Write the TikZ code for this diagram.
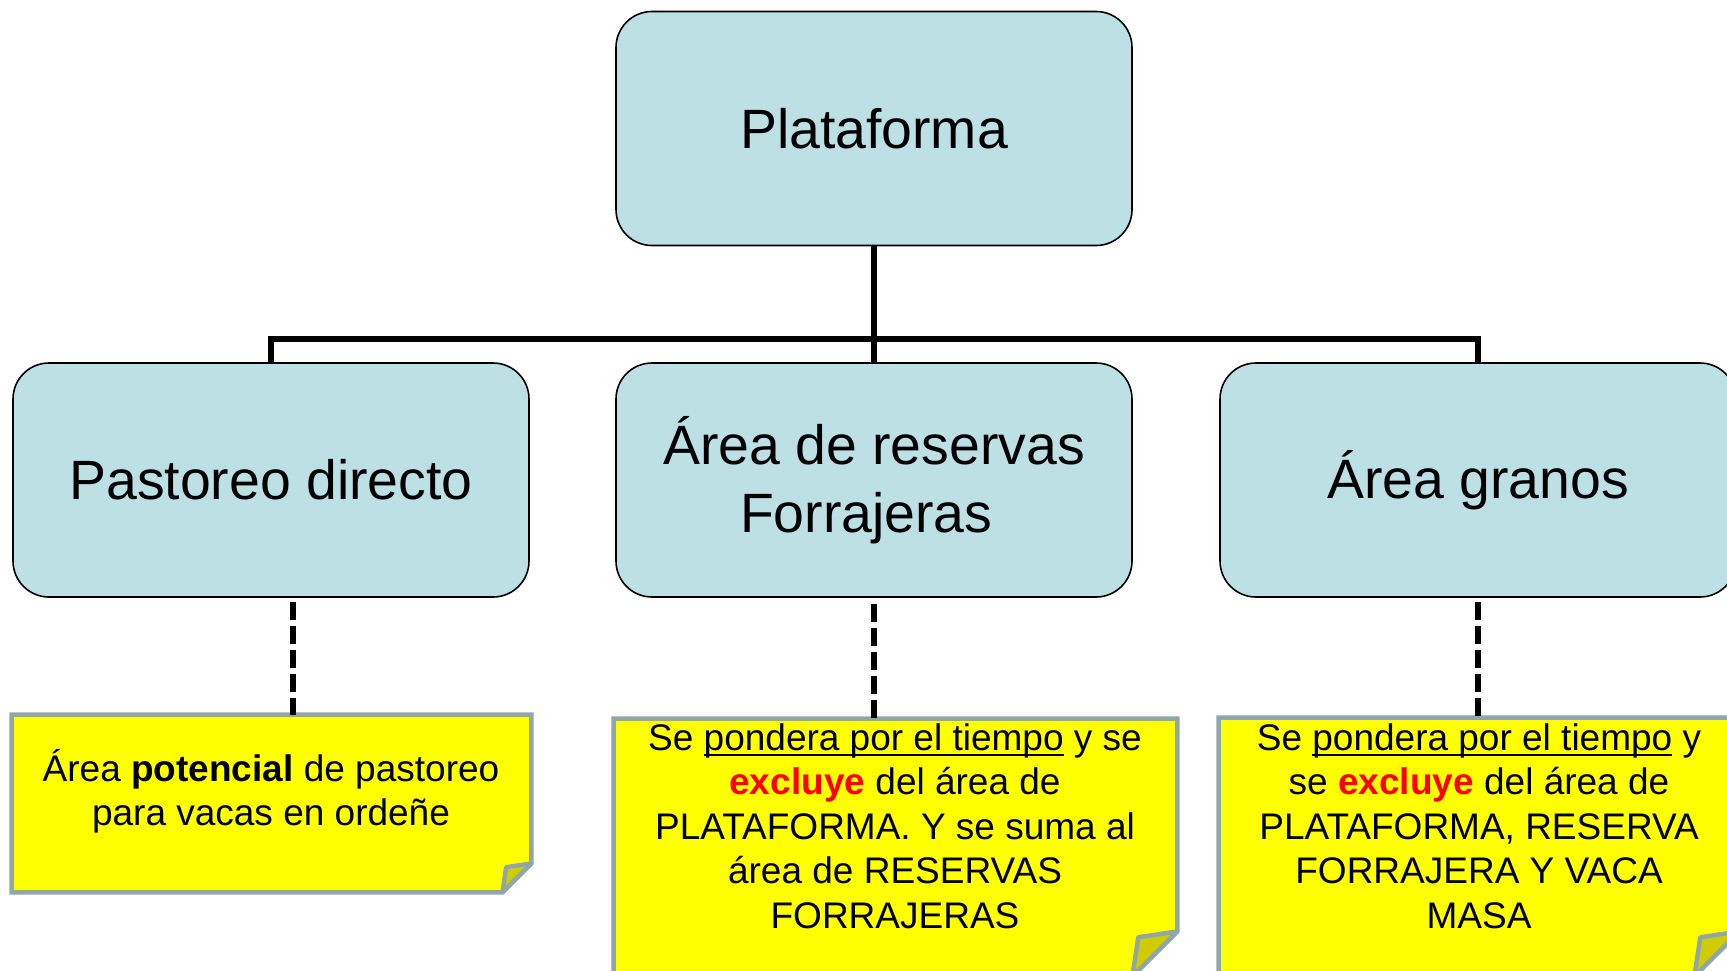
\documentclass[tikz,border=0pt]{standalone}
\usepackage{fontspec}
\setmainfont{Liberation Sans}
\usetikzlibrary{calc}

\definecolor{boxblue}{RGB}{188,224,227}
\definecolor{noteyellow}{RGB}{255,255,0}
\definecolor{noteline}{RGB}{143,166,170}
\definecolor{flapyellow}{RGB}{208,204,0}

% underline a little below the baseline
\newcommand{\undertext}[1]{\setbox0\hbox{#1}\rlap{\vrule width\wd0 height -2pt depth 3pt}\box0\relax}

% paper with folded corner, drawn round an empty node
\newcommand{\stickynote}[2]{%
  \draw[noteline, line width=2.2pt, fill=noteyellow, line join=miter]
    (#1.north west) -- (#1.north east) -- ($(#1.south east)+(0,-#2)$)
    -- ($(#1.south east)+(-#2,0)$) -- (#1.south west) -- cycle;
  \draw[noteline, line width=2.2pt, fill=flapyellow, line join=round]
    ($(#1.south east)+(0,-#2)$) -- ($(#1.south east)+(-0.87*#2,-0.87*#2)$)
    -- ($(#1.south east)+(-#2,0)$) -- cycle;}

\begin{document}
\begin{tikzpicture}[x=0.5pt,y=-0.5pt,
  box/.style={draw=black, line width=0.8pt, fill=boxblue, rounded corners=18pt,
    minimum width=258pt, minimum height=117pt, align=center,
    font=\fontsize{27.7}{34.2}\selectfont},
  paper/.style={inner sep=0pt},
  notetext/.style={align=center, font=\fontsize{18.5}{22.2}\selectfont},
  tree/.style={line width=3pt, line join=miter},
  dashline/.style={line width=3pt, dash pattern=on 9pt off 3pt}]

  \useasboundingbox (0,0) rectangle (1727,970);
  \clip (0,0) rectangle (1727,970);

  \coordinate (bar) at (874,339);

  \node[box] (plat) at (874,128.5) {Plataforma};
  \node[box] (pd) at (271,480) {Pastoreo directo};
  \node[box] (ar) at (874,480) {Área de reservas\\Forrajeras\kern0.28em};
  \node[box] (ag) at (1478,480) {Área granos};

  \draw[tree] (plat.south) -- (plat.south |- bar);
  \draw[tree] (pd.north) -- (pd.north |- bar) -- (ag.north |- bar) -- (ag.north);
  \draw[tree] (ar.north) -- (ar.north |- bar);

  \node[paper, minimum width=259.5pt, minimum height=88.5pt] (pdnote) at (271.5,803.5) {};
  \node[paper, minimum width=281.5pt, minimum height=128.5pt] (arnote) at (895.5,847.5) {};
  \node[paper, minimum width=260pt, minimum height=129pt] (agnote) at (1479,847) {};
  \stickynote{pdnote}{29}
  \stickynote{arnote}{45}
  \stickynote{agnote}{45}

  \coordinate (d1) at ($(pd.south)+(22,4)$);
  \coordinate (d2) at ($(ar.south)+(0,6)$);
  \coordinate (d3) at ($(ag.south)+(0,4)$);
  \draw[dashline] (d1) -- (d1 |- pdnote.north);
  \draw[dashline] (d2) -- (d2 |- arnote.north);
  \draw[dashline] (d3) -- (d3 |- agnote.north);

  \node[notetext] (pdtxt) at (271,791)
    {Área \textbf{potencial} de pastoreo\\para vacas en ordeñe};
  \node[notetext] (artxt) at (895,826)
    {Se \undertext{pondera por el tiempo} y se\\\textcolor{red}{\textbf{excluye}} del área de\\PLATAFORMA. Y se suma al\\área de RESERVAS\\FORRAJERAS};
  \node[notetext] (agtxt) at (1479,826)
    {Se \undertext{pondera por el tiempo} y\\se \textcolor{red}{\textbf{excluye}} del área de\\PLATAFORMA, RESERVA\\FORRAJERA Y VACA\\MASA};
\end{tikzpicture}
\end{document}
